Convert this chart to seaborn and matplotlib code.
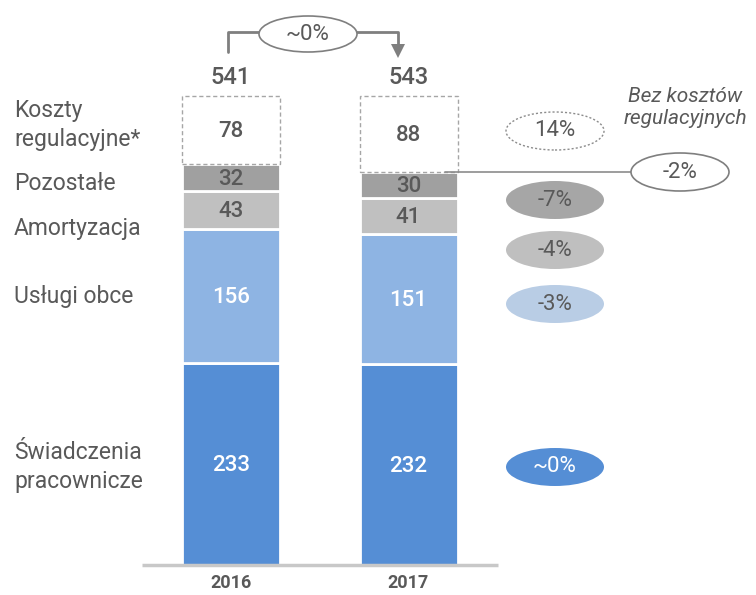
import matplotlib
matplotlib.use("Agg")
import matplotlib.pyplot as plt
from matplotlib.patches import Ellipse
import seaborn as sns
import pandas as pd
import numpy as np

# ---------------- data ----------------
years = ["2016", "2017"]
segments = ["Świadczenia\npracownicze", "Usługi obce", "Amortyzacja", "Pozostałe", "Koszty\nregulacyjne*"]
vals_2016 = [233, 156, 43, 32, 78]
vals_2017 = [232, 151, 41, 30, 88]
totals = [541, 543]
changes = ["~0%", "-3%", "-4%", "-7%", "14%"]
change_excl_reg = "-2%"
change_total = "~0%"
note_text = "Bez kosztów\nregulacyjnych"

# ---------------- style ----------------
sns.set_theme(style="white")
plt.rcParams["font.family"] = ["Roboto", "DejaVu Sans"]
TXT = "#595959"
seg_colors = ["#558ED5", "#8EB4E3", "#C0C0C0", "#A0A0A0", "#FFFFFF"]
seg_txt = ["white", "white", TXT, TXT, TXT]
bub_colors = ["#558ED5", "#B9CDE5", "#BFBFBF", "#A6A6A6", "#FFFFFF"]
bub_txt = ["white", TXT, TXT, TXT, TXT]

W, H = 756, 595
fig = plt.figure(figsize=(W / 100, H / 100), dpi=100)
ax = fig.add_axes([0, 0, 1, 1])

# pixel -> data mapping (axes fills figure)
X0, XS = 231.0, 177.5     # px of bar 0 centre, px per category
Y0, YS = 565.0, 0.865     # px of baseline, px per unit
def X(px): return (px - X0) / XS
def Y(py): return (Y0 - py) / YS

df = pd.DataFrame({"year": years * len(segments),
                   "segment": np.repeat(segments, len(years)),
                   "value": [v for pair in zip(vals_2016, vals_2017) for v in pair]})

label_py = [467, 296, 229, 184, 125]   # left label vertical positions (px)
bottoms = np.zeros(len(years))
bar_w = 98 / XS
for i, seg in enumerate(segments):
    sub = df[df["segment"] == seg]
    v = sub["value"].to_numpy()
    if i < len(segments) - 1:
        sns.barplot(data=sub, x="year", y="value", bottom=bottoms, color=seg_colors[i],
                    saturation=1, width=bar_w, edgecolor="white", linewidth=2,
                    errorbar=None, ax=ax)
    else:
        sns.barplot(data=sub, x="year", y="value", bottom=bottoms, color="white",
                    saturation=1, width=bar_w, edgecolor="#A6A6A6", linewidth=1,
                    linestyle=(0, (3, 2)), errorbar=None, ax=ax)
    for j in range(len(years)):
        ax.text(j, bottoms[j] + v[j] / 2 - 2, f"{v[j]}", ha="center", va="center",
                fontsize=16, color=seg_txt[i], fontweight="medium")
    ax.text(X(14), Y(label_py[i]), seg, ha="left", va="center",
            fontsize=16.5, color=TXT, linespacing=1.3)
    bottoms = bottoms + v

ax.set_xlim(X(0), X(W))
ax.set_ylim(Y(H), Y(0))
ax.set_axis_off()

# baseline
ax.plot([X(142), X(498)], [0, 0], color="#C8C8C8", lw=2.5, solid_capstyle="butt")

# year labels
for j, y in enumerate(years):
    ax.text(j, Y(583), y, ha="center", va="center", fontsize=13, color=TXT, fontweight="bold")

# totals
for j, t in enumerate(totals):
    ax.text(j, Y(77), f"{t}", ha="center", va="center", fontsize=17, color=TXT, fontweight="medium")

# top arrow
ax.plot([X(228), X(228), X(398), X(398)], [Y(52), Y(32), Y(32), Y(46)],
        color="#7F7F7F", lw=2)
ax.fill([X(391), X(405), X(398)], [Y(44), Y(44), Y(58)], color="#7F7F7F", lw=0)
ax.add_patch(Ellipse((X(308), Y(34)), 98 / XS, 36 / YS, facecolor="white",
                     edgecolor="#7F7F7F", lw=1.2, zorder=5))
ax.text(X(308), Y(34), change_total, ha="center", va="center", fontsize=16,
        color=TXT, zorder=6)

# change bubbles
bub_y = [467, 304, 250, 200, 131]
for i, ch in enumerate(changes):
    if i == 4:
        e = Ellipse((X(555), Y(bub_y[i])), 98 / XS, 38 / YS, facecolor="white",
                    edgecolor="#8C8C8C", lw=1, linestyle=(0, (1.5, 1.5)), zorder=5)
    else:
        e = Ellipse((X(555), Y(bub_y[i])), 98 / XS, 38 / YS, facecolor=bub_colors[i],
                    edgecolor="none", zorder=5)
    ax.add_patch(e)
    ax.text(X(555), Y(bub_y[i]), ch, ha="center", va="center", fontsize=16,
            color=bub_txt[i], zorder=6)

# excl. regulatory costs
top_excl = sum(vals_2017[:4])
ax.plot([X(445), X(633)], [top_excl, top_excl], color="#8C8C8C", lw=1.2)
ax.add_patch(Ellipse((X(680), Y(172)), 98 / XS, 38 / YS, facecolor="white",
                     edgecolor="#7F7F7F", lw=1.2, zorder=5))
ax.text(X(680), Y(172), change_excl_reg, ha="center", va="center", fontsize=16,
        color=TXT, zorder=6)
ax.text(X(685), Y(107), note_text, ha="center", va="center", fontsize=15,
        color=TXT, style="italic", linespacing=1.2)

fig.savefig("out.png", dpi=100)
